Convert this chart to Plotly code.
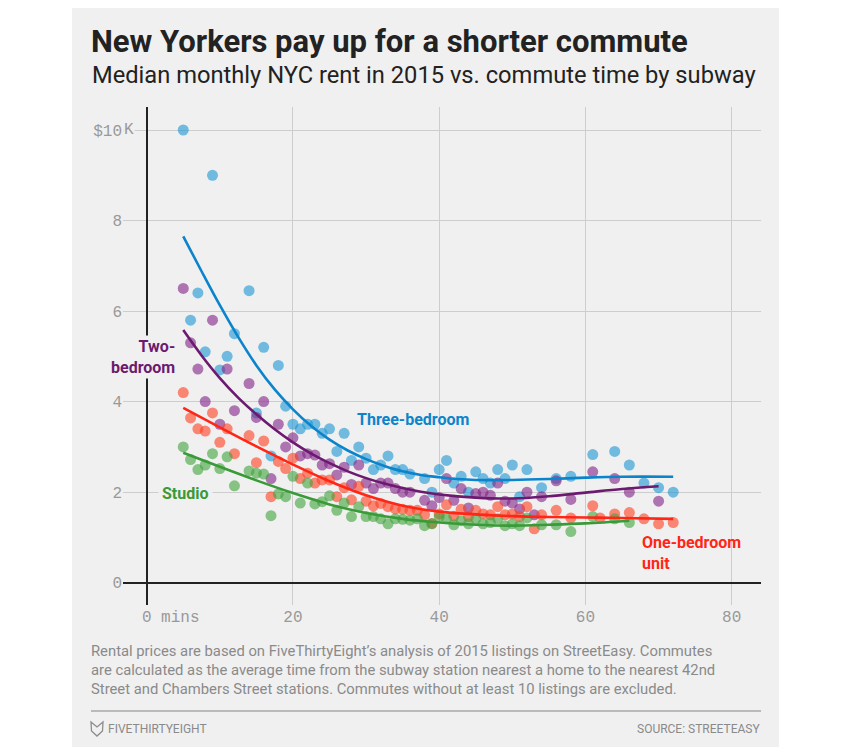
import plotly.graph_objects as go

# ---------------- data ----------------
three_x = [5, 6, 7, 8, 9, 10, 11, 12, 14, 15, 16, 17, 18, 19, 20, 21, 22, 23, 24, 25, 26, 27, 28, 29, 30,
           31, 32, 33, 34, 35, 36, 38, 39, 40, 41, 42, 43, 44, 45, 46, 47, 48, 49, 50, 51, 52, 54, 56, 58,
           61, 64, 66, 68, 70, 72]
three_y = [10.0, 5.8, 6.4, 5.1, 9.0, 4.7, 5.0, 5.5, 6.45, 3.75, 5.2, 2.8, 4.8, 3.9, 3.5, 3.4, 3.5, 3.5, 3.3, 3.4,
           2.9, 3.3, 2.7, 3.0, 2.75, 2.5, 2.6, 2.8, 2.5, 2.5, 2.4, 2.3, 2.0, 2.5, 2.7, 2.2, 2.35, 2.0, 2.45,
           2.3, 2.2, 2.5, 2.3, 2.6, 1.9, 2.5, 2.1, 2.3, 2.35, 2.83, 2.9, 2.6, 2.2, 2.1, 2.0]

two_x = [5, 6, 7, 8, 9, 10, 11, 12, 14, 15, 16, 17, 18, 19, 20, 21, 22, 23, 24, 25, 26, 27, 28, 29, 30,
         31, 32, 33, 34, 35, 36, 38, 39, 40, 41, 42, 43, 44, 45, 46, 47, 48, 49, 50, 51, 52, 53, 54, 56,
         58, 61, 64, 66, 70]
two_y = [6.5, 5.3, 4.72, 4.0, 5.8, 3.5, 4.72, 3.8, 4.4, 3.65, 4.0, 2.3, 3.5, 3.0, 3.2, 2.8, 2.85, 2.82, 2.6,
         2.63, 2.38, 2.55, 2.17, 2.6, 2.2, 2.08, 2.2, 2.2, 2.08, 2.0, 2.0, 1.82, 1.7, 1.88, 2.3, 1.82, 2.08,
         1.65, 1.97, 2.0, 1.93, 2.2, 1.8, 1.76, 1.63, 2.0, 1.5, 1.9, 2.25, 1.84, 2.45, 2.3, 2.0, 1.8]

one_x = [5, 6, 7, 8, 9, 10, 11, 12, 14, 15, 16, 17, 18, 19, 20, 21, 22, 23, 24, 25, 26, 27, 28, 29, 30,
         31, 32, 33, 34, 35, 36, 37, 38, 39, 40, 41, 42, 43, 44, 45, 46, 47, 48, 49, 50, 51, 52, 53, 54,
         56, 58, 61, 62, 64, 66, 68, 70, 72]
one_y = [4.2, 3.64, 3.4, 3.35, 3.75, 3.1, 3.4, 2.85, 3.25, 2.65, 3.13, 1.9, 2.68, 2.52, 2.75, 2.3, 2.42, 2.2,
         2.27, 2.27, 1.9, 2.1, 1.83, 2.13, 1.8, 1.7, 1.75, 1.68, 1.63, 1.62, 1.6, 1.6, 1.5, 1.31, 1.52, 1.72,
         1.47, 1.62, 1.46, 1.6, 1.52, 1.5, 1.68, 1.5, 1.52, 1.46, 1.68, 1.19, 1.5, 1.6, 1.43, 1.7, 1.43,
         1.52, 1.55, 1.41, 1.3, 1.33]

studio_x = [5, 6, 7, 8, 9, 10, 11, 12, 14, 15, 16, 17, 18, 19, 20, 21, 22, 23, 24, 25, 26, 27, 28, 29, 30,
            31, 32, 33, 34, 35, 36, 37, 38, 39, 40, 41, 42, 43, 44, 45, 46, 47, 48, 49, 50, 51, 52, 54, 56,
            58, 61, 64, 66]
studio_y = [3.0, 2.72, 2.5, 2.6, 2.85, 2.52, 2.78, 2.14, 2.47, 2.42, 2.4, 1.48, 1.96, 1.9, 2.35, 1.76, 2.2,
            1.74, 1.79, 1.92, 1.6, 1.76, 1.46, 1.68, 1.46, 1.46, 1.41, 1.3, 1.41, 1.4, 1.38, 1.41, 1.26, 1.3,
            1.46, 1.41, 1.28, 1.37, 1.3, 1.41, 1.3, 1.33, 1.41, 1.26, 1.3, 1.26, 1.43, 1.28, 1.28, 1.13,
            1.46, 1.41, 1.33]

# fitted trend lines
three_fit_x = [5, 7.5, 10, 12.5, 15, 17.5, 20, 22.5, 25, 27.5, 30, 32.5, 35, 37.5, 40, 42.5, 45, 50, 55, 60, 65, 72]
three_fit_y = [7.65, 6.88, 6.13, 5.43, 4.80, 4.27, 3.83, 3.46, 3.16, 2.92, 2.73, 2.58, 2.46, 2.38, 2.33, 2.29,
               2.27, 2.27, 2.29, 2.32, 2.34, 2.34]
two_fit_x = [5, 7.5, 10, 12.5, 15, 17.5, 20, 22.5, 25, 27.5, 30, 32.5, 35, 37.5, 40, 45, 50, 55, 60, 65, 70]
two_fit_y = [5.58, 5.02, 4.52, 4.09, 3.72, 3.39, 3.10, 2.85, 2.64, 2.46, 2.31, 2.19, 2.09, 2.01, 1.95, 1.88,
             1.86, 1.91, 1.99, 2.07, 2.13]
one_fit_x = [5, 10, 15, 20, 25, 30, 35, 40, 45, 50, 55, 60, 65, 72]
one_fit_y = [3.86, 3.43, 3.01, 2.61, 2.24, 1.93, 1.70, 1.57, 1.51, 1.47, 1.45, 1.44, 1.43, 1.41]
studio_fit_x = [5, 10, 15, 20, 25, 30, 35, 40, 45, 50, 55, 60, 66]
studio_fit_y = [2.87, 2.56, 2.26, 1.98, 1.73, 1.54, 1.41, 1.33, 1.28, 1.26, 1.28, 1.31, 1.37]

x_ticks = [0, 20, 40, 60, 80]
x_ticktext = ["\u00a0\u00a0\u00a0\u00a0\u00a00\u00a0mins", "20", "40", "60", "80"]
y_ticks = [0, 2, 4, 6, 8, 10]
y_ticktext = ["0", "2", "4", "6", "8", "$10"]

# ---------------- styling ----------------
W, H = 849, 755
L, R, T, B = 123, 761, 107, 605   # plot area in pixels
BG = "#f0f0f0"
MONO = "Liberation Mono"
SANS = "Roboto"

BLUE, BLUE_DOT = "#0b84cc", "#1a96d6"
PURPLE, PURPLE_DOT = "#6c1a70", "#822287"
RED, RED_DOT = "#ff2616", "#ff3d20"
GREEN, GREEN_DOT = "#3a9a38", "#40a43a"


def px(xp):
    return (xp - L) / (R - L)


def py(yp):
    return (B - yp) / (B - T)


fig = go.Figure()

for xs, ys, c in [(three_x, three_y, BLUE_DOT), (two_x, two_y, PURPLE_DOT),
                  (one_x, one_y, RED_DOT), (studio_x, studio_y, GREEN_DOT)]:
    fig.add_trace(go.Scatter(x=xs, y=ys, mode="markers",
                             marker=dict(size=11, color=c, opacity=0.6, line=dict(width=0)),
                             hoverinfo="skip", showlegend=False))

for xs, ys, c in [(three_fit_x, three_fit_y, BLUE), (two_fit_x, two_fit_y, PURPLE),
                  (one_fit_x, one_fit_y, RED), (studio_fit_x, studio_fit_y, GREEN)]:
    fig.add_trace(go.Scatter(x=xs, y=ys, mode="lines",
                             line=dict(color=c, width=2.6, shape="spline", smoothing=1),
                             hoverinfo="skip", showlegend=False))

xscale = 7.3125
yscale = 45.27
x0_px, y0_px = 146.7, 582.7
x_range = [(L - x0_px) / xscale, (R - x0_px) / xscale]
y_range = [(y0_px - B) / yscale, (y0_px - T) / yscale]

fig.update_xaxes(range=x_range, tickvals=x_ticks, ticktext=x_ticktext, showgrid=True,
                 gridcolor="#cdcdcd", gridwidth=1, zeroline=True, zerolinecolor="#222222",
                 zerolinewidth=1.5, showline=False, ticks="",
                 tickfont=dict(family=MONO, size=16, color="#999999"))
fig.update_yaxes(range=y_range, tickvals=y_ticks, ticktext=y_ticktext, showgrid=True,
                 gridcolor="#cdcdcd", gridwidth=1, zeroline=True, zerolinecolor="#222222",
                 zerolinewidth=1.5, showline=False, ticks="", ticklabelstandoff=0,
                 tickfont=dict(family=MONO, size=16, color="#999999"))

shapes = [
    dict(type="rect", xref="paper", yref="paper", x0=px(72), x1=px(779), y0=py(747), y1=py(8),
         fillcolor=BG, line=dict(width=0), layer="below"),
    dict(type="line", xref="paper", yref="paper", x0=px(91), x1=px(761), y0=py(711), y1=py(711),
         line=dict(color="#a8a8a8", width=1.5)),
    # small fox logo outline
    dict(type="path", xref="paper", yref="paper",
         path="M {a},{b} L {c},{d} L {e},{f} L {g},{h} L {i},{j} L {k},{l} Z".format(
             a=px(91), b=py(722), c=px(97), d=py(727), e=px(103), f=py(722),
             g=px(102.5), h=py(731), i=px(97), j=py(736), k=px(91.5), l=py(731)),
         line=dict(color="#8c8c8c", width=1.3), fillcolor="rgba(0,0,0,0)"),
]

annotations = [
    dict(text="<b>New Yorkers pay up for a shorter commute</b>", xref="paper", yref="paper",
         x=px(89), y=py(42), xanchor="left", yanchor="middle", showarrow=False,
         font=dict(family=SANS, size=31, color="#222222")),
    dict(text="Median monthly NYC rent in 2015 vs. commute time by subway", xref="paper", yref="paper",
         x=px(90), y=py(75), xanchor="left", yanchor="middle", showarrow=False,
         font=dict(family=SANS, size=23.7, color="#222222")),
    dict(text="K", xref="paper", yref="y", x=px(122.5), y=10, xanchor="left", yanchor="middle",
         showarrow=False, bgcolor=BG, borderpad=0,
         font=dict(family=MONO, size=16, color="#999999")),
    dict(text="<b>Three-bedroom</b>", x=(355 - x0_px) / xscale, y=(y0_px - 419) / yscale,
         xanchor="left", yanchor="middle", showarrow=False,
         font=dict(family=SANS, size=16, color=BLUE)),
    dict(text="<b>Two-<br>bedroom</b>", x=(177 - x0_px) / xscale, y=(y0_px - 357) / yscale,
         xanchor="right", yanchor="middle", align="right", showarrow=False, bgcolor=BG,
         font=dict(family=SANS, size=16, color=PURPLE)),
    dict(text="<b>Studio</b>", x=(185 - x0_px) / xscale, y=(y0_px - 493) / yscale,
         xanchor="center", yanchor="middle", showarrow=False, bgcolor=BG, borderpad=3,
         font=dict(family=SANS, size=16, color=GREEN)),
    dict(text="<b>One-bedroom<br>unit</b>", x=(640 - x0_px) / xscale, y=(y0_px - 553) / yscale,
         xanchor="left", yanchor="middle", align="left", showarrow=False,
         font=dict(family=SANS, size=16, color=RED)),
    dict(text=("Rental prices are based on FiveThirtyEight\u2019s analysis of 2015 listings on StreetEasy. Commutes<br>"
               "are calculated as the average time from the subway station nearest a home to the nearest 42nd<br>"
               "Street and Chambers Street stations. Commutes without at least 10 listings are excluded."),
         xref="paper", yref="paper", x=px(89), y=py(670), xanchor="left", yanchor="middle",
         align="left", showarrow=False, font=dict(family=SANS, size=14.8, color="#8a8a8a")),
    dict(text="FIVETHIRTYEIGHT", xref="paper", yref="paper", x=px(106), y=py(729),
         xanchor="left", yanchor="middle", showarrow=False,
         font=dict(family=SANS, size=12, color="#8a8a8a")),
    dict(text="SOURCE: STREETEASY", xref="paper", yref="paper", x=px(762), y=py(729),
         xanchor="right", yanchor="middle", showarrow=False,
         font=dict(family=SANS, size=12, color="#8a8a8a")),
]

fig.update_layout(width=W, height=H, margin=dict(l=L, r=W - R, t=T, b=H - B, pad=0),
                  paper_bgcolor="white", plot_bgcolor="rgba(0,0,0,0)",
                  shapes=shapes, annotations=annotations, showlegend=False,
                  font=dict(family=SANS))

fig.write_html("out.html", config={"displayModeBar": False},
               post_script="document.body.style.margin='0';")
